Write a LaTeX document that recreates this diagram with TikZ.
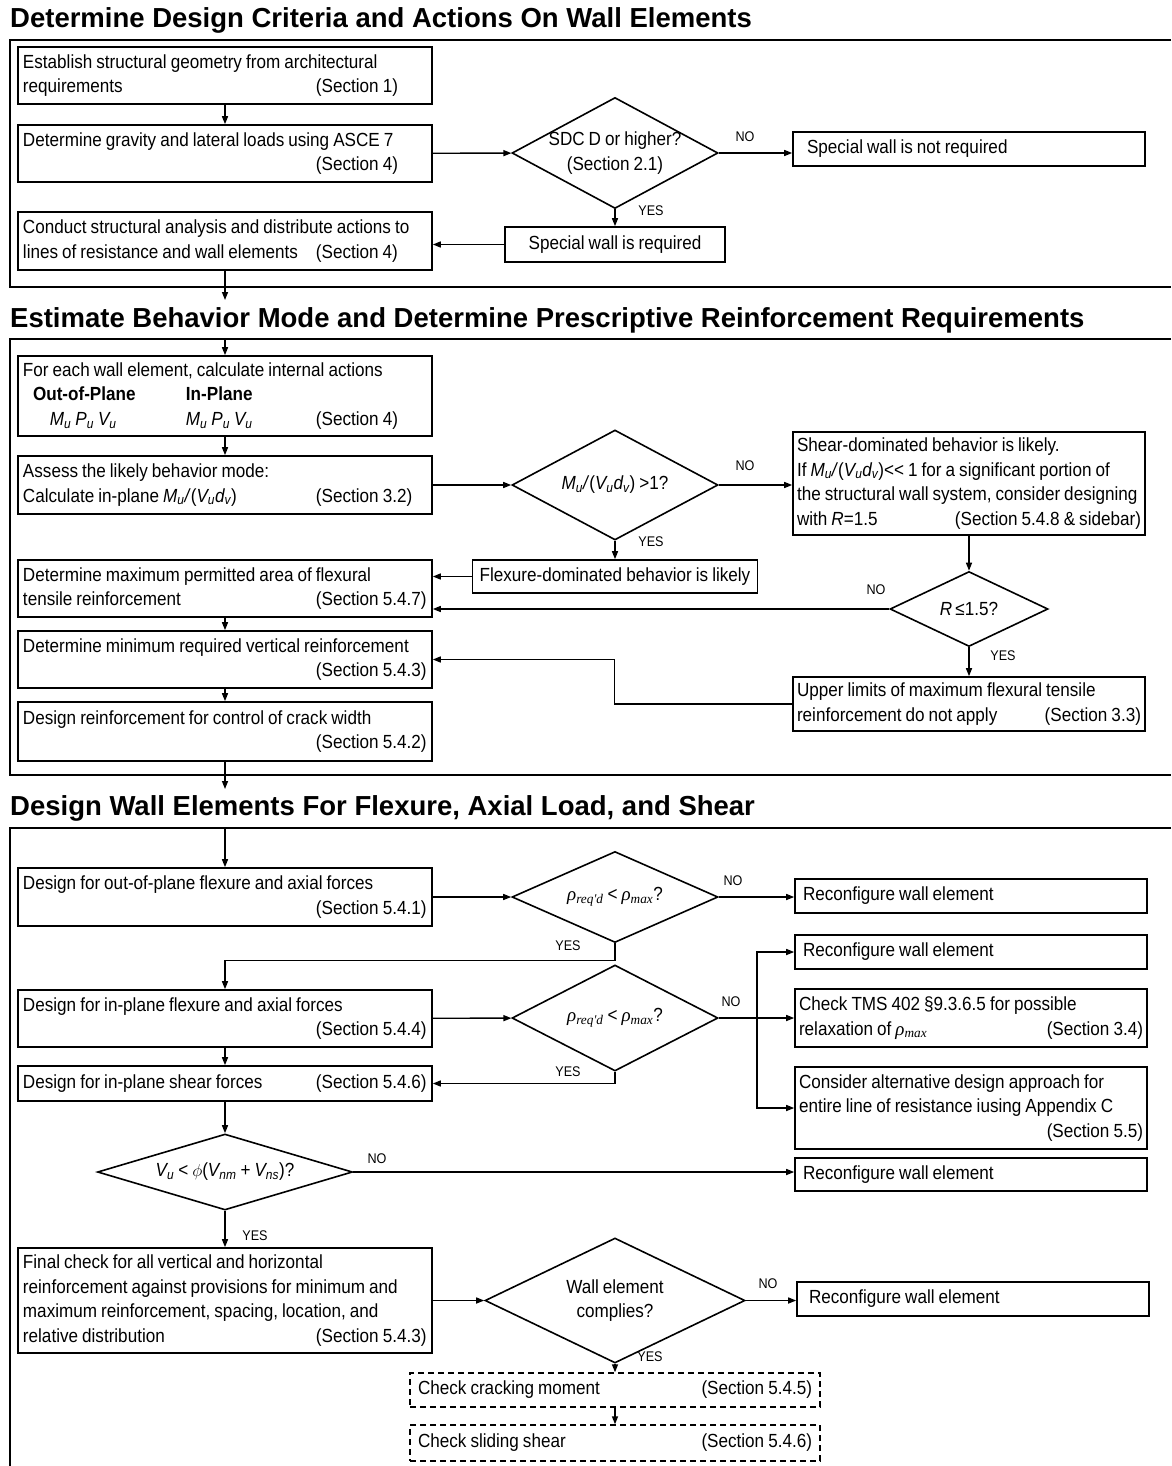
\documentclass[tikz,border=0pt]{standalone}
\usepackage{amsmath}
\usepackage{fontspec}
\setmainfont{Liberation Sans}[FakeStretch=0.9, WordSpace=0.85]
\newfontfamily\headfont{Liberation Sans}
\newfontfamily\symfont{Liberation Serif}
\usetikzlibrary{arrows.meta,shapes.geometric}

\newcommand{\bodyfont}{\fontsize{19}{24.5}\selectfont}
\newcommand{\sectag}[2]{\makebox[293pt][l]{#1}\mbox{(Section #2)}}
\newcommand{\dtxt}[1]{\makebox[0pt]{#1}}
\newcommand{\isub}[2]{\textit{#1\textsubscript{#2}}}
\newcommand{\rhosub}[1]{{\symfont\itshape ρ\textsubscript{#1}}}

\begin{document}
\begin{tikzpicture}[x=1pt, y=-1pt,
    every node/.style={font=\bodyfont},
    box/.style={draw, line width=1.6pt, inner xsep=5pt, inner ysep=0pt, text width=404pt, align=flush left},
    rbox/.style={draw, line width=1.6pt, inner xsep=4pt, inner ysep=0pt, text width=344pt, align=flush left},
    cbox/.style={draw, line width=1.6pt, inner sep=0pt, align=center},
    dbox/.style={draw, line width=1.4pt, dash pattern=on 6pt off 4pt, inner xsep=8pt, inner ysep=0pt, text width=394pt, align=flush left},
    dec/.style={diamond, draw, line width=1.6pt, inner sep=0pt, align=center},
    lab/.style={font=\fontsize{14}{16}\selectfont, inner sep=0pt},
    ttl/.style={font=\headfont\bfseries\fontsize{27.5}{30}\selectfont, anchor=west, inner sep=0pt},
    arr/.style={line width=1.4pt, -{Triangle[length=8pt,width=6pt]}},
    frame/.style={line width=1.4pt}
]
\useasboundingbox (0,0) rectangle (1171,1466);

% design criteria
\node[ttl] (t1) at (10,20) {Determine Design Criteria and Actions On Wall Elements};
\draw[frame] (1171,40) -| (10,287) -- (1171,287);

\node[box, minimum height=57] (a1) at (225,75.5) {Establish structural geometry from architectural\\\sectag{requirements}{1}};
\node[box, minimum height=57] (a2) at (225,153.5) {Determine gravity and lateral loads using ASCE 7\\\sectag{}{4}};
\node[box, minimum height=58] (a3) at (225,241) {Conduct structural analysis and distribute actions to\\\sectag{lines of resistance and wall elements}{4}};
\node[dec, minimum width=206, minimum height=111] (d1) at (615,153) {\dtxt{SDC D or higher?}\\\dtxt{(Section 2.1)}};
\node[rbox, minimum height=34] (b1) at (969,149) {\hspace*{10pt}Special wall is not required};
\node[cbox, minimum width=220, minimum height=35] (b2) at (615,244.5) {Special wall is required};
\node[lab] (no1) at (745,137) {NO};
\node[lab] (yes1) at (651,211) {YES};

\draw[arr] (a1) -- (a2);
\draw[arr] (a2) -- (d1);
\draw[arr] (d1.east) -- (d1.east -| b1.west);
\draw[arr] (d1) -- (b2);
\draw[arr] (b2.west) -- (b2.west -| a3.east);
\coordinate (o1) at (225,300);
\draw[arr] (a3) -- (o1);

% behavior mode
\node[ttl] (t2) at (10,320) {Estimate Behavior Mode and Determine Prescriptive Reinforcement Requirements};
\draw[frame] (1171,339) -| (10,775) -- (1171,775);
\coordinate (i2) at (225,339);

\node[box, minimum height=80] (c1) at (225,396) {For each wall element, calculate internal actions\\
  \hspace*{10pt}\makebox[153pt][l]{\textbf{Out-of-Plane}}\textbf{In-Plane}\\
  \hspace*{27pt}\makebox[136pt][l]{\isub{M}{u} \isub{P}{u} \isub{V}{u}}\makebox[130pt][l]{\isub{M}{u} \isub{P}{u} \isub{V}{u}}(Section 4)};
\node[box, minimum height=58] (c2) at (225,485) {Assess the likely behavior mode:\\\sectag{Calculate in-plane \isub{M}{u}\textit{/}(\isub{V}{u}\isub{d}{v})}{3.2}};
\node[dec, minimum width=206, minimum height=110] (d2) at (615,485) {\dtxt{\isub{M}{u}\textit{/}(\isub{V}{u}\isub{d}{v}) >1?}};
\node[rbox, minimum height=103] (e1) at (969,483.5) {Shear-dominated behavior is likely.\\If \isub{M}{u}\textit{/}(\isub{V}{u}\isub{d}{v})<{}< 1 for a significant portion of\\the structural wall system, consider designing\\with \textit{R}=1.5\hfill(Section 5.4.8 \& sidebar)};
\node[cbox, minimum width=285, minimum height=33] (f1) at (615,576.5) {Flexure-dominated behavior is likely};
\node[box, minimum height=57] (c3) at (225,588.5) {Determine maximum permitted area of flexural\\\sectag{tensile reinforcement}{5.4.7}};
\node[dec, minimum width=158, minimum height=75] (d3) at (969,609) {\dtxt{\textit{R}\,≤1.5?}};
\node[rbox, minimum height=54] (g1) at (969,704) {Upper limits of maximum flexural tensile\\reinforcement do not apply\hfill(Section 3.3)};
\node[box, minimum height=57] (c4) at (225,659.5) {Determine minimum required vertical reinforcement\\\sectag{}{5.4.3}};
\node[box, minimum height=59] (c5) at (225,731.5) {Design reinforcement for control of crack width\\\sectag{}{5.4.2}};
\node[lab] (no2) at (745,466) {NO};
\node[lab] (yes2) at (651,542) {YES};
\node[lab] (no3) at (876,590) {NO};
\node[lab] (yes3) at (1003,656) {YES};

\draw[arr] (i2) -- (c1);
\draw[arr] (c1) -- (c2);
\draw[arr] (c2) -- (d2);
\draw[arr] (d2.east) -- (d2.east -| e1.west);
\draw[arr] (d2) -- (f1);
\draw[arr] (f1.west) -- (f1.west -| c3.east);
\draw[arr] (e1) -- (d3);
\draw[arr] (d3.west) -- (d3.west -| c3.east);
\draw[arr] (d3) -- (g1);
\draw[arr] (g1.west) -- ++(-178,0) |- (c4.east);
\draw[arr] (c3) -- (c4);
\draw[arr] (c4) -- (c5);
\coordinate (o2) at (225,789);
\draw[arr] (c5) -- (o2);

% flexure, axial load and shear
\node[ttl] (t3) at (10,808) {Design Wall Elements For Flexure, Axial Load, and Shear};
\draw[frame] (1171,828) -| (10,1466);
\coordinate (i3) at (225,828);

\node[box, minimum height=58] (h1) at (225,897) {Design for out-of-plane flexure and axial forces\\\sectag{}{5.4.1}};
\node[dec, minimum width=206, minimum height=91] (d4) at (615,897) {\dtxt{\rhosub{req'd} < \rhosub{max}?}};
\node[rbox, minimum height=34] (j1) at (971,896) {\hspace*{4pt}Reconfigure wall element};
\node[box, minimum height=57] (h2) at (225,1018.5) {Design for in-plane flexure and axial forces\\\sectag{}{5.4.4}};
\node[dec, minimum width=206, minimum height=106] (d5) at (615,1018) {\dtxt{\rhosub{req'd} < \rhosub{max}?}};
\node[rbox, minimum height=34] (j2) at (971,952) {\hspace*{4pt}Reconfigure wall element};
\node[rbox, minimum height=58] (j3) at (971,1018) {Check TMS 402 §9.3.6.5 for possible\\relaxation of \rhosub{max}\hfill(Section 3.4)};
\node[rbox, minimum height=82] (j4) at (971,1108) {Consider alternative design approach for\\entire line of resistance iusing Appendix C\\\mbox{}\hfill(Section 5.5)};
\node[box, minimum height=35] (h3) at (225,1083.5) {\sectag{Design for in-plane shear forces}{5.4.6}};
\node[dec, minimum width=255, minimum height=76] (d6) at (225,1172) {\dtxt{\isub{V}{u} < $\phi$(\isub{V}{nm} + \isub{V}{ns})?}};
\node[rbox, minimum height=33] (j5) at (971,1174.5) {\hspace*{4pt}Reconfigure wall element};
\node[box, minimum height=105] (k1) at (225,1300.5) {Final check for all vertical and horizontal\\reinforcement against provisions for minimum and\\maximum reinforcement, spacing, location, and\\\sectag{relative distribution}{5.4.3}};
\node[dec, minimum width=260, minimum height=125] (d7) at (615,1300.5) {\dtxt{Wall element}\\\dtxt{complies?}};
\node[rbox, minimum height=34] (l1) at (973,1299) {\hspace*{8pt}Reconfigure wall element};
\node[dbox, minimum height=34] (m1) at (615,1390) {Check cracking moment\hfill(Section 5.4.5)};
\node[dbox, minimum height=36] (m2) at (615,1443) {Check sliding shear\hfill(Section 5.4.6)};
\node[lab] (no4) at (733,881) {NO};
\node[lab] (yes4) at (568,946) {YES};
\node[lab] (no5) at (731,1002) {NO};
\node[lab] (yes5) at (568,1072) {YES};
\node[lab] (no6) at (377,1159) {NO};
\node[lab] (yes6) at (255,1236) {YES};
\node[lab] (no7) at (768,1284) {NO};
\node[lab] (yes7) at (650,1357) {YES};

\draw[arr] (i3) -- (h1);
\draw[arr] (h1) -- (d4);
\draw[arr] (d4.east) -- (d4.east -| j1.west);
\draw[arr] (d4.south) -- ++(0,17) -| (h2.north);
\draw[arr] (h2) -- (d5);
\coordinate (sp) at (757,1018);
\draw[arr] (d5.east) -- (d5.east -| j3.west);
\draw[arr] (sp) |- (j2.west);
\draw[arr] (sp) |- (j4.west);
\draw[arr] (d5.south) |- (h3.east);
\draw[arr] (h2) -- (h3);
\draw[arr] (h3) -- (d6);
\draw[arr] (d6.east) -- (d6.east -| j5.west);
\draw[arr] (d6) -- (k1);
\draw[arr] (k1.east) -- (k1.east -| d7.west);
\draw[arr] (d7.east) -- (d7.east -| l1.west);
\draw[arr] (d7) -- (m1);
\draw[arr] (m1) -- (m2);

\end{tikzpicture}
\end{document}
